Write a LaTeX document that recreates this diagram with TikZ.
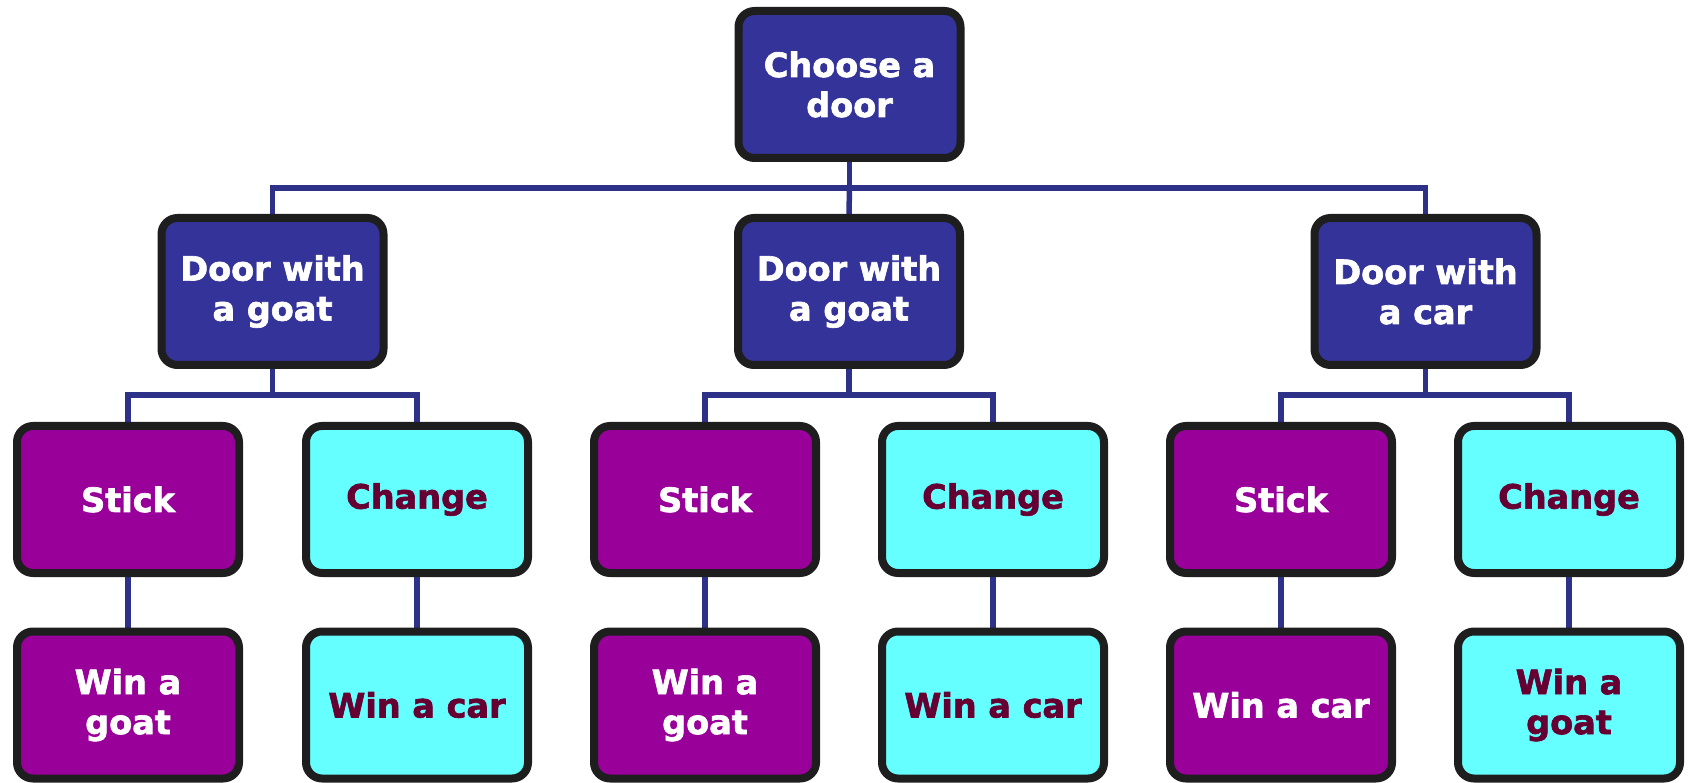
\documentclass[tikz,border=0pt]{standalone}
\usepackage{fontspec}
\setmainfont{DejaVu Sans}
\newfontfamily\boxfont{DejaVu Sans Bold}[FakeBold=2]
\usetikzlibrary{shadows,backgrounds}
\definecolor{boxblue}{HTML}{333399}
\definecolor{boxpurple}{HTML}{990099}
\definecolor{boxcyan}{HTML}{66FFFF}
\definecolor{txtred}{HTML}{660033}
\definecolor{border}{HTML}{1E1E1E}
\definecolor{conncol}{HTML}{2E3188}
\tikzset{
  box/.style={draw=border, line width=8pt, rounded corners=16pt,
    minimum width=222pt, minimum height=147pt, inner sep=0pt,
    align=center, font=\fontsize{33.5}{40}\selectfont\boxfont,
    drop shadow={opacity=0.22, shadow xshift=2pt, shadow yshift=-3pt}},
  bluebox/.style={box, fill=boxblue, text=white},
  purplebox/.style={box, fill=boxpurple, text=white},
  cyanbox/.style={box, fill=boxcyan, text=txtred},
  conn/.style={draw=conncol, line width=5.5pt}
}
\begin{document}
\begin{tikzpicture}[x=1pt,y=-1pt]
\useasboundingbox (0,0) rectangle (1690,783);
% top
\node[bluebox] (top) at (849.5,84.5) {Choose a\\door};
% level 2
\node[bluebox] (d1) at (272.5,291.5) {Door with\\a goat};
\node[bluebox] (d2) at (849,291.5) {Door with\\a goat};
\node[bluebox] (d3) at (1425.5,291.5) {Door with\\a car};
% level 3
\node[purplebox] (s1) at (128,499.5) {Stick};
\node[cyanbox] (c1) at (417,499.5) {Change};
\node[purplebox] (s2) at (705,499.5) {Stick};
\node[cyanbox] (c2) at (993,499.5) {Change};
\node[purplebox] (s3) at (1281,499.5) {Stick};
\node[cyanbox] (c3) at (1569,499.5) {Change};
% level 4
\node[purplebox] (w1) at (128,705) {Win a\\goat};
\node[cyanbox] (w2) at (417,705) {Win a car};
\node[purplebox] (w3) at (705,705) {Win a\\goat};
\node[cyanbox] (w4) at (993,705) {Win a car};
\node[purplebox] (w5) at (1281,705) {Win a car};
\node[cyanbox] (w6) at (1569,705) {Win a\\goat};
% bars
\coordinate (b0) at (849.5,188);
\coordinate (b1) at (272.5,395);
\coordinate (b2) at (849,395);
\coordinate (b3) at (1425.5,395);
\begin{scope}[on background layer]
\draw[conn] (top.south) -- (top.south |- b0);
\draw[conn] (d1.north) |- (b0) -| (d3.north);
\draw[conn] (top.south |- b0) -- (d2.north);
\draw[conn] (d1.south) -- (b1);
\draw[conn] (s1.north) |- (b1) -| (c1.north);
\draw[conn] (d2.south) -- (b2);
\draw[conn] (s2.north) |- (b2) -| (c2.north);
\draw[conn] (d3.south) -- (b3);
\draw[conn] (s3.north) |- (b3) -| (c3.north);
\draw[conn] (s1.south) -- (w1.north);
\draw[conn] (c1.south) -- (w2.north);
\draw[conn] (s2.south) -- (w3.north);
\draw[conn] (c2.south) -- (w4.north);
\draw[conn] (s3.south) -- (w5.north);
\draw[conn] (c3.south) -- (w6.north);
\end{scope}
\end{tikzpicture}
\end{document}
